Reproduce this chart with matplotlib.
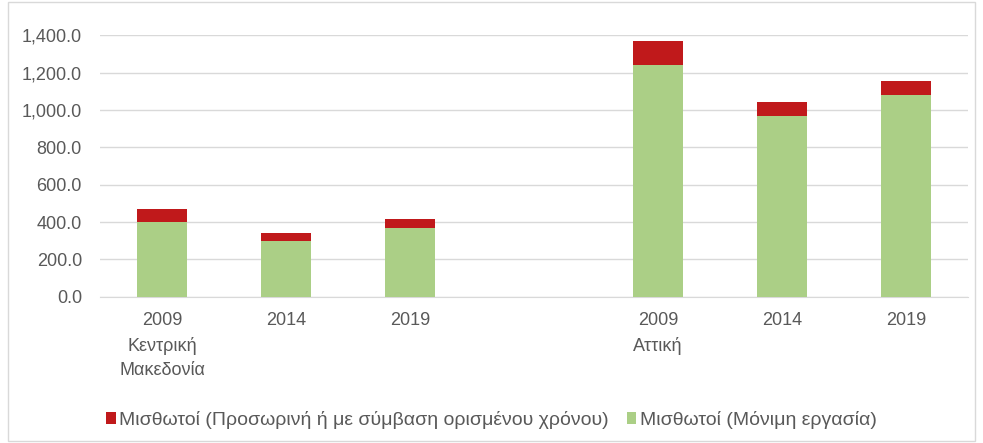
import matplotlib
matplotlib.use("Agg")
import matplotlib.pyplot as plt
from matplotlib.patches import Rectangle

plt.rcParams['font.family'] = ['Liberation Sans', 'DejaVu Sans']

categories = ["2009\nΚεντρική\nΜακεδονία", "2014", "2019", "", "2009\nΑττική", "2014", "2019"]
permanent = [402, 298, 370, None, 1241, 968, 1079]
temporary = [66, 42, 45, None, 127, 73, 75]
series_names = ["Μισθωτοί (Προσωρινή ή με σύμβαση ορισμένου χρόνου)", "Μισθωτοί (Μόνιμη εργασία)"]
yticks = [0, 200, 400, 600, 800, 1000, 1200, 1400]

red = "#c0191b"
green = "#abcf86"
txt = "#595959"

fig = plt.figure(figsize=(9.83, 4.43), dpi=100)
ax = fig.add_axes([0.1017, 0.3302, 0.883, 0.5901])

xs = [i for i, v in enumerate(permanent) if v is not None]
perm = [permanent[i] for i in xs]
temp = [temporary[i] for i in xs]
b1 = ax.bar(xs, perm, width=0.4, color=green, zorder=3, label=series_names[1])
b2 = ax.bar(xs, temp, bottom=perm, width=0.4, color=red, zorder=3, label=series_names[0])

ax.set_xlim(-0.5, 6.5)
ax.set_ylim(0, 1400)
ax.set_yticks(yticks)
ax.set_yticklabels([f"{v:,.1f}" for v in yticks], color=txt, fontsize=13)
ax.set_xticks(range(len(categories)))
ax.set_xticklabels(categories, color=txt, fontsize=13, linespacing=1.55)
ax.tick_params(axis='y', length=0, pad=13)
ax.tick_params(axis='x', length=0, pad=11)
ax.grid(axis='y', color="#d9d9d9", linewidth=1, zorder=0)
for s in ['top', 'right', 'left']:
    ax.spines[s].set_visible(False)
ax.spines['bottom'].set_color("#d9d9d9")

leg = fig.legend(handles=[b2, b1], labels=series_names, loc='center', bbox_to_anchor=(0.5, 0.052),
                 ncol=2, frameon=False, fontsize=14, handlelength=0.5, handleheight=0.55,
                 handletextpad=0.2, columnspacing=0.9)
for t in leg.get_texts():
    t.set_color(txt)

fig.patches.append(Rectangle((0.008, 0.005), 0.984, 0.99, transform=fig.transFigure,
                             fill=False, edgecolor="#d9d9d9", linewidth=1))

fig.savefig("out.png", dpi=100)
